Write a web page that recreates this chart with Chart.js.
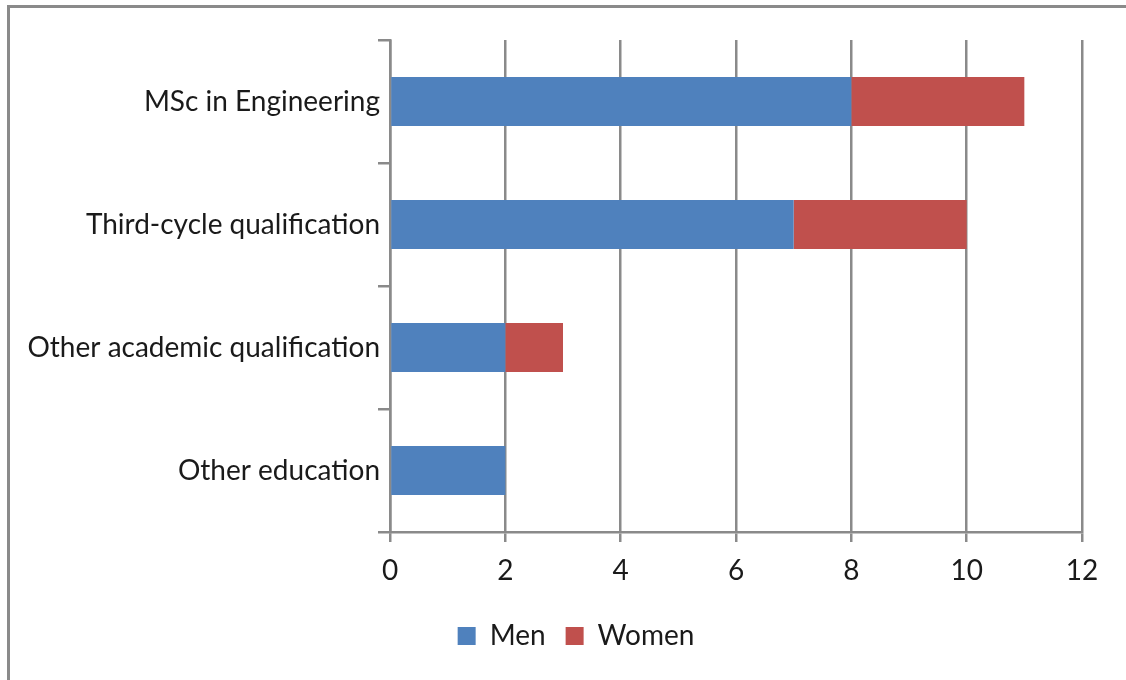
<!DOCTYPE html>
<html>
<head>
<meta charset="utf-8">
<script src="https://cdn.jsdelivr.net/npm/chart.js@4"></script>
<style>
  html, body { margin: 0; padding: 0; background: #fff; overflow: hidden; }
  #wrap { position: relative; width: 1126px; height: 680px; }
  #frame {
    position: absolute; left: 7px; top: 5px; width: 1140px; height: 700px;
    border: 3px solid #8a8a8a; pointer-events: none;
  }
</style>
</head>
<body>
<div id="wrap">
  <canvas id="eduChart" width="1126" height="680"></canvas>
  <div id="frame"></div>
</div>
<script>
const categories = ['MSc in Engineering', 'Third-cycle qualification', 'Other academic qualification', 'Other education'];
const men = [8, 7, 2, 2];
const women = [3, 3, 1, 0];
const xTicks = [0, 2, 4, 6, 8, 10, 12];

const gridGrey = '#8a8a8a';
const font = { family: 'Lato, "Open Sans", sans-serif', size: 28 };

Chart.defaults.color = '#1a1a1a';
Chart.defaults.font = font;

// nudge the legend a bit to the right of the canvas centre
const legendShift = {
  id: 'legendShift',
  afterLayout(chart) {
    if (chart.legend) {
      chart.legend.left += 30;
      chart.legend.right += 30;
    }
  }
};

const eduChart = document.querySelector('#eduChart');

new Chart(eduChart, {
  type: 'bar',
  data: {
    labels: categories,
    datasets: [{
      label: 'Men',
      data: men,
      backgroundColor: '#4f81bd',
      categoryPercentage: 1,
      barPercentage: 0.4
    },
    {
      label: 'Women',
      data: women,
      backgroundColor: '#c0504d',
      categoryPercentage: 1,
      barPercentage: 0.4
    }]
  },
  options: {
    indexAxis: 'y',
    responsive: false,
    animation: false,
    layout: { padding: { left: 10, right: 44, top: 40, bottom: 20 } },
    scales: {
      x: {
        stacked: true,
        min: 0,
        max: 12,
        afterBuildTicks: s => { s.ticks = xTicks.map(v => ({ value: v })); },
        afterFit: s => { s.height = 70; },
        grid: { color: gridGrey, lineWidth: 2.5, tickLength: 10 },
        border: { color: gridGrey, width: 2.5 },
        ticks: { padding: 12 }
      },
      y: {
        stacked: true,
        afterFit: s => { s.width = 380; },
        grid: { color: gridGrey, lineWidth: 2.5, tickLength: 12, drawOnChartArea: false, offset: true },
        border: { color: gridGrey, width: 2.5 },
        ticks: { padding: -2 }
      }
    },
    plugins: {
      legend: {
        position: 'bottom',
        labels: { boxWidth: 18, boxHeight: 18, padding: 20 }
      },
      tooltip: { enabled: false }
    }
  },
  plugins: [legendShift]
});
</script>
</body>
</html>
